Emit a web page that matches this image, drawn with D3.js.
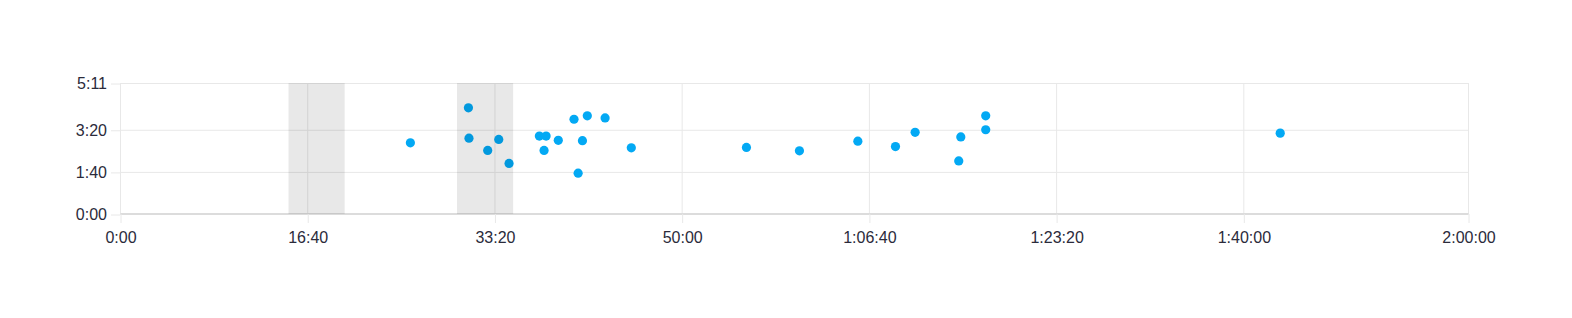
<!DOCTYPE html>
<html>
<head>
<meta charset="utf-8">
<script src="https://cdn.jsdelivr.net/npm/d3@7"></script>
<style>
  html, body { margin: 0; padding: 0; background: #fff; }
  svg { display: block; }
  .tick text { font-family: "Liberation Sans", Arial, sans-serif; font-size: 16px; fill: #2b2b3b; }
</style>
</head>
<body>
<svg id="chart" width="1572" height="318"></svg>
<script>
// Data (seconds)
const xTicks = [0, 1000, 2000, 3000, 4000, 5000, 6000, 7200];
const yTicks = [0, 100, 200, 311];
const bandStarts = [900, 1800];
const bandEnds = [1200, 2100];
const pointTimes = [1551, 1861, 1864, 1964, 2023, 2078, 2240, 2276, 2265, 2341, 2425, 2496, 2591, 2470, 2447, 2731,
                    3346, 3629, 3941, 4142, 4247, 4491, 4480, 4624, 4624, 6197];
const pointValues = [169, 252, 180, 151, 177, 120, 185, 185, 151, 175, 225, 233, 228, 174, 97, 157,
                     158, 150, 173, 160, 194, 183, 126, 233, 200, 192];

function fmt(s) {
  s = Math.round(s);
  const h = Math.floor(s / 3600), m = Math.floor((s % 3600) / 60), sec = s % 60;
  const pad = v => String(v).padStart(2, "0");
  return h > 0 ? `${h}:${pad(m)}:${pad(sec)}` : `${m}:${pad(sec)}`;
}

const svg = d3.select("#chart");
const x = d3.scaleLinear().domain([0, 7200]).range([120, 1468]);
const y = d3.scaleLinear().domain([0, 311]).range([214, 83]);

// gridlines
const grid = svg.append("g");
grid.selectAll(".vg").data(xTicks).join("line")
  .attr("x1", d => x(d) + 0.5).attr("x2", d => x(d) + 0.5)
  .attr("y1", y(311)).attr("y2", y(0))
  .attr("stroke", "#e8e8e8").attr("stroke-width", 1);
grid.selectAll(".hg").data(yTicks).join("line")
  .attr("x1", x(0)).attr("x2", x(7200) + 0.5)
  .attr("y1", d => y(d) + 0.5).attr("y2", d => y(d) + 0.5)
  .attr("stroke", "#e8e8e8").attr("stroke-width", 1);

// axes
const xAxis = svg.append("g").attr("transform", `translate(0.5,${y(0)})`)
  .call(d3.axisBottom(x).tickValues(xTicks).tickFormat(fmt).tickSize(9).tickPadding(9));
xAxis.select(".domain").attr("stroke", "#dcdcdc").attr("stroke-width", 2).attr("d", `M${x(0)},0H${x(7200)}`);
xAxis.selectAll(".tick line").attr("stroke", "#e8e8e8");

const yAxis = svg.append("g").attr("transform", `translate(${x(0)},0.5)`)
  .call(d3.axisLeft(y).tickValues(yTicks).tickFormat(fmt).tickSize(9).tickPadding(4));
yAxis.select(".domain").remove();
yAxis.selectAll(".tick line").attr("stroke", "#e8e8e8");

// points
const pts = pointTimes.map((t, i) => ({ t, v: pointValues[i] }));
svg.append("g").selectAll("circle").data(pts).join("circle")
  .attr("cx", d => x(d.t)).attr("cy", d => y(d.v)).attr("r", 4.6)
  .attr("fill", "#03a9f4");

// bands (semi-transparent, over points)
const bands = bandStarts.map((s, i) => ({ s, e: bandEnds[i] }));
svg.append("g").selectAll("rect").data(bands).join("rect")
  .attr("x", d => x(d.s)).attr("width", d => x(d.e) - x(d.s))
  .attr("y", y(311)).attr("height", y(0) - y(311))
  .attr("fill", "#000").attr("fill-opacity", 0.09);
</script>
</body>
</html>
